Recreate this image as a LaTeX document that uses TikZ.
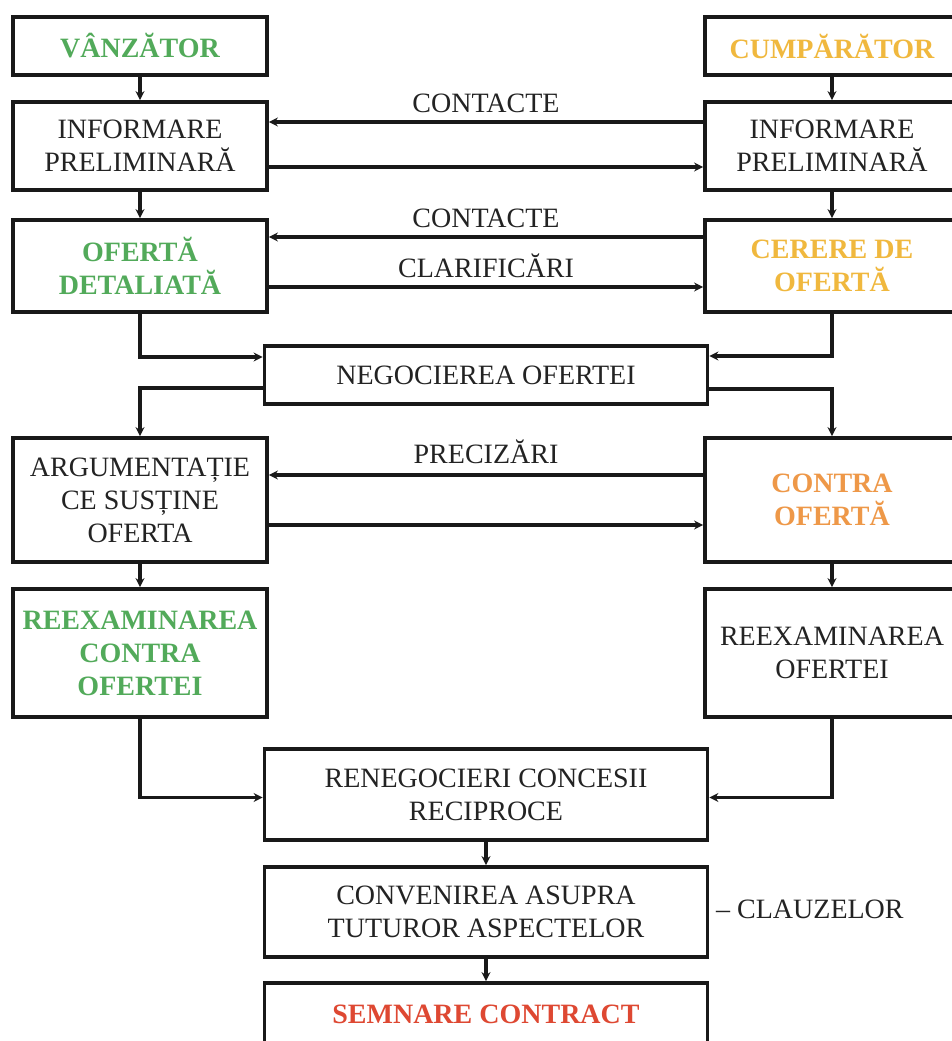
\documentclass[tikz,border=0pt]{standalone}
\usepackage{fontspec}
\setmainfont{Liberation Serif}
\usetikzlibrary{arrows.meta,calc}
\definecolor{txt}{RGB}{35,35,35}
\definecolor{vgreen}{RGB}{82,170,90}
\definecolor{vyellow}{RGB}{240,184,62}
\definecolor{vorange}{RGB}{238,152,72}
\definecolor{vred}{RGB}{222,72,50}
\definecolor{ln}{RGB}{25,25,25}
\begin{document}
\begin{tikzpicture}[x=1pt,y=-1pt,
  box/.style={draw=ln, line width=3.8pt, inner sep=0pt, align=center,
    font=\fontsize{28}{33}\selectfont, text=txt},
  hl/.style={font=\fontsize{28}{33}\selectfont\bfseries},
  lw/.style={minimum width=254pt},
  mw/.style={minimum width=443pt},
  arr/.style={draw=ln, line width=3.4pt, -{Stealth[length=9pt,width=9pt]}},
  lbl/.style={font=\fontsize{28}{33}\selectfont, text=txt, inner sep=0pt}
]
\clip (0,0) rectangle (952,1041);
\fill[white] (0,0) rectangle (952,1041);

% left column
\node[box,lw,hl,minimum height=58pt,text=vgreen] (L1) at (140,46) {VÂNZĂTOR};
\node[box,lw,minimum height=88pt] (L2) at (140,146) {INFORMARE\\PRELIMINARĂ};
\node[box,lw,hl,minimum height=92pt,text=vgreen] (L3) at (140,266) {OFERTĂ\\DETALIATĂ};
\node[box,lw,minimum height=124pt] (L4) at (140,500) {ARGUMENTAȚIE\\CE SUSȚINE\\OFERTA};
\node[box,lw,hl,minimum height=128pt,text=vgreen] (L5) at (140,653) {REEXAMINAREA\\CONTRA\\OFERTEI};

% right column
\node[box,lw,hl,minimum height=58pt,text=vyellow] (R1) at (832,46) {CUMPĂRĂTOR};
\node[box,lw,minimum height=88pt] (R2) at (832,146) {INFORMARE\\PRELIMINARĂ};
\node[box,lw,hl,minimum height=92pt,text=vyellow] (R3) at (832,266) {CERERE DE\\OFERTĂ};
\node[box,lw,hl,minimum height=124pt,text=vorange] (R4) at (832,500) {CONTRA\\OFERTĂ};
\node[box,lw,minimum height=128pt] (R5) at (832,653) {REEXAMINAREA\\OFERTEI};

% middle column
\node[box,mw,minimum height=58pt] (NEG) at (486,375) {NEGOCIEREA OFERTEI};
\node[box,mw,minimum height=91pt] (REN) at (486,794.5) {RENEGOCIERI CONCESII\\RECIPROCE};
\node[box,mw,minimum height=90pt] (CONV) at (486,912) {CONVENIREA ASUPRA\\TUTUROR ASPECTELOR};
\node[box,mw,hl,minimum height=62pt,text=vred] (SEM) at (486,1014) {SEMNARE CONTRACT};

\node[lbl,anchor=base west] (CLZ) at (716,918) {– CLAUZELOR};

% vertical flow
\draw[arr] (L1.south) -- (L2.north);
\draw[arr] (L2.south) -- (L3.north);
\draw[arr] (L4.south) -- (L5.north);
\draw[arr] (R1.south) -- (R2.north);
\draw[arr] (R2.south) -- (R3.north);
\draw[arr] (R4.south) -- (R5.north);
\draw[arr] (REN.south) -- (CONV.north);
\draw[arr] (CONV.south) -- (SEM.north);

% horizontal exchanges
\draw[arr] ([yshift=24pt]R2.west) -- node[lbl,above=8pt] (c1) {CONTACTE} ([yshift=24pt]L2.east);
\draw[arr] ([yshift=-21pt]L2.east) -- ([yshift=-21pt]R2.west);
\draw[arr] ([yshift=29pt]R3.west) -- node[lbl,above=8pt] (c2) {CONTACTE} ([yshift=29pt]L3.east);
\draw[arr] ([yshift=-21pt]L3.east) -- node[lbl,above=8pt] (c3) {CLARIFICĂRI} ([yshift=-21pt]R3.west);
\draw[arr] ([yshift=25pt]R4.west) -- node[lbl,above=10pt] (c4) {PRECIZĂRI} ([yshift=25pt]L4.east);
\draw[arr] ([yshift=-25pt]L4.east) -- ([yshift=-25pt]R4.west);

% merge / split
\draw[arr] (L3.south) |- ([yshift=18pt]NEG.west);
\draw[arr] (R3.south) |- ([yshift=19pt]NEG.east);
\draw[arr] ([yshift=-13pt]NEG.west) -| (L4.north);
\draw[arr] ([yshift=-14pt]NEG.east) -| (R4.north);
\draw[arr] (L5.south) |- ([yshift=-3pt]REN.west);
\draw[arr] (R5.south) |- ([yshift=-3pt]REN.east);
\end{tikzpicture}
\end{document}
